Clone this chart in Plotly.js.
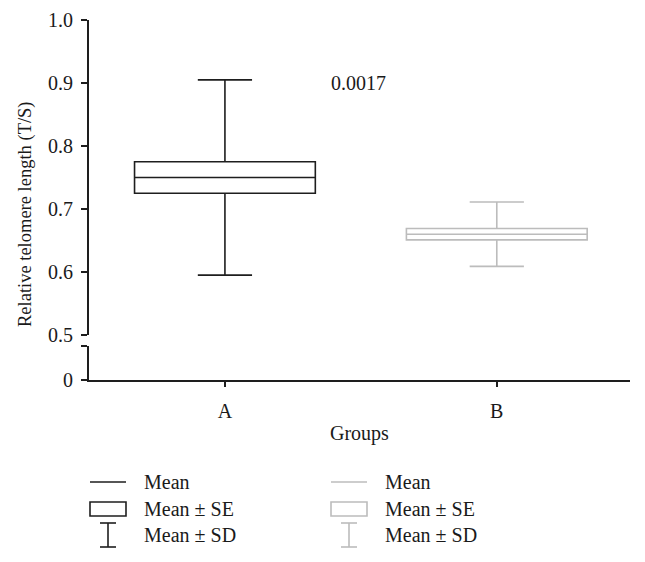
<!DOCTYPE html>
<html><head>
<script src="https://cdn.plot.ly/plotly-3.0.1.min.js"></script>
<style>body{margin:0;background:#fff}</style>
</head><body>
<div id="chart" style="width:645px;height:562px"></div>
<script>
// ---- data ----
const groups = ['A', 'B'];
const means = [0.750, 0.660];
const seLow = [0.725, 0.651];
const seHigh = [0.775, 0.669];
const sdLow = [0.595, 0.609];
const sdHigh = [0.905, 0.711];
const pValue = '0.0017';
const yTickVals = [0.5, 0.6, 0.7, 0.8, 0.9, 1.0];
const yTickText = ['0.5', '0.6', '0.7', '0.8', '0.9', '1.0'];
const legendLabels = ['Mean', 'Mean \u00b1 SE', 'Mean \u00b1 SD'];

// ---- styles ----
const colors = ['#1e1e1e', '#bcbcbc'];
const FONT = 'Liberation Serif, Times New Roman, serif';
const W = 645, H = 562;
const M = {l: 89, r: 15, t: 20, b: 182};
const PW = W - M.l - M.r, PH = H - M.t - M.b;
const px = x => (x - M.l) / PW;
const py = y => (M.t + PH - y) / PH;

const traces = groups.map((g, i) => ({
  type: 'box',
  x: [g],
  q1: [seLow[i]],
  median: [means[i]],
  q3: [seHigh[i]],
  lowerfence: [sdLow[i]],
  upperfence: [sdHigh[i]],
  width: 0.665,
  whiskerwidth: 0.3,
  fillcolor: 'rgba(255,255,255,0)',
  line: {color: colors[i], width: 1.6},
  boxpoints: false,
  hoverinfo: 'skip',
  showlegend: false,
  xaxis: 'x', yaxis: 'y'
}));
// invisible trace so the lower (broken) axis segment is drawn
traces.push({type: 'scatter', x: groups, y: [null, null], mode: 'none', xaxis: 'x', yaxis: 'y2',
  hoverinfo: 'skip', showlegend: false});

const shapes = [];
const annotations = [];
groups.forEach((g, i) => {
  const off = i * 241;
  const c = colors[i];
  const ln = {color: c, width: 1.6};
  shapes.push({type: 'line', xref: 'paper', yref: 'paper', x0: px(90 + off), x1: px(126 + off), y0: py(482), y1: py(482), line: ln});
  shapes.push({type: 'rect', xref: 'paper', yref: 'paper', x0: px(90 + off), x1: px(126 + off), y0: py(502), y1: py(516), line: ln});
  shapes.push({type: 'line', xref: 'paper', yref: 'paper', x0: px(108 + off), x1: px(108 + off), y0: py(523), y1: py(547), line: ln});
  shapes.push({type: 'line', xref: 'paper', yref: 'paper', x0: px(100 + off), x1: px(116 + off), y0: py(523), y1: py(523), line: ln});
  shapes.push({type: 'line', xref: 'paper', yref: 'paper', x0: px(100 + off), x1: px(116 + off), y0: py(547), y1: py(547), line: ln});
  [482, 509, 535].forEach((yy, k) => {
    annotations.push({xref: 'paper', yref: 'paper', x: px(142 + off), y: py(yy), xanchor: 'left', yanchor: 'middle',
      text: legendLabels[k], showarrow: false, font: {family: FONT, size: 20, color: '#1a1a1a'}});
  });
});

annotations.push({xref: 'paper', yref: 'paper', x: px(358), y: py(83), xanchor: 'center', yanchor: 'middle',
  text: pValue, showarrow: false, font: {family: FONT, size: 20, color: '#1a1a1a'}});
annotations.push({xref: 'paper', yref: 'paper', x: px(359), y: py(434), xanchor: 'center', yanchor: 'middle',
  text: 'Groups', showarrow: false, font: {family: FONT, size: 20, color: '#1a1a1a'}});
annotations.push({xref: 'paper', yref: 'paper', x: px(25), y: py(214), xanchor: 'center', yanchor: 'middle',
  text: 'Relative telomere length (T/S)', textangle: -90, showarrow: false, font: {family: FONT, size: 18.5, color: '#1a1a1a'}});

const axisCommon = {
  showline: true, linecolor: '#1e1e1e', linewidth: 2,
  ticks: 'outside', tickcolor: '#1e1e1e', tickwidth: 2,
  showgrid: false, zeroline: false, fixedrange: true,
  tickfont: {family: FONT, size: 20, color: '#1a1a1a'}
};

const layout = {
  width: W, height: H,
  margin: M,
  paper_bgcolor: '#fff', plot_bgcolor: '#fff',
  boxmode: 'overlay',
  showlegend: false,
  xaxis: Object.assign({}, axisCommon, {
    type: 'category', categoryarray: groups, range: [-0.5, 1.49],
    anchor: 'y2', ticklen: 5, ticklabelstandoff: 7
  }),
  yaxis: Object.assign({}, axisCommon, {
    domain: [py(335), 1], range: [0.5, 1.0], anchor: 'x',
    tickvals: yTickVals, ticktext: yTickText, ticklen: 6, ticklabelstandoff: 4
  }),
  yaxis2: Object.assign({}, axisCommon, {
    domain: [0, py(346)], range: [0, 0.1], anchor: 'x',
    tickvals: [0, 0.1], ticktext: ['0', ''], ticklen: 6, ticklabelstandoff: 4
  }),
  shapes: shapes,
  annotations: annotations
};

Plotly.newPlot('chart', traces, layout, {displayModeBar: false, staticPlot: true});
</script>
</body></html>
